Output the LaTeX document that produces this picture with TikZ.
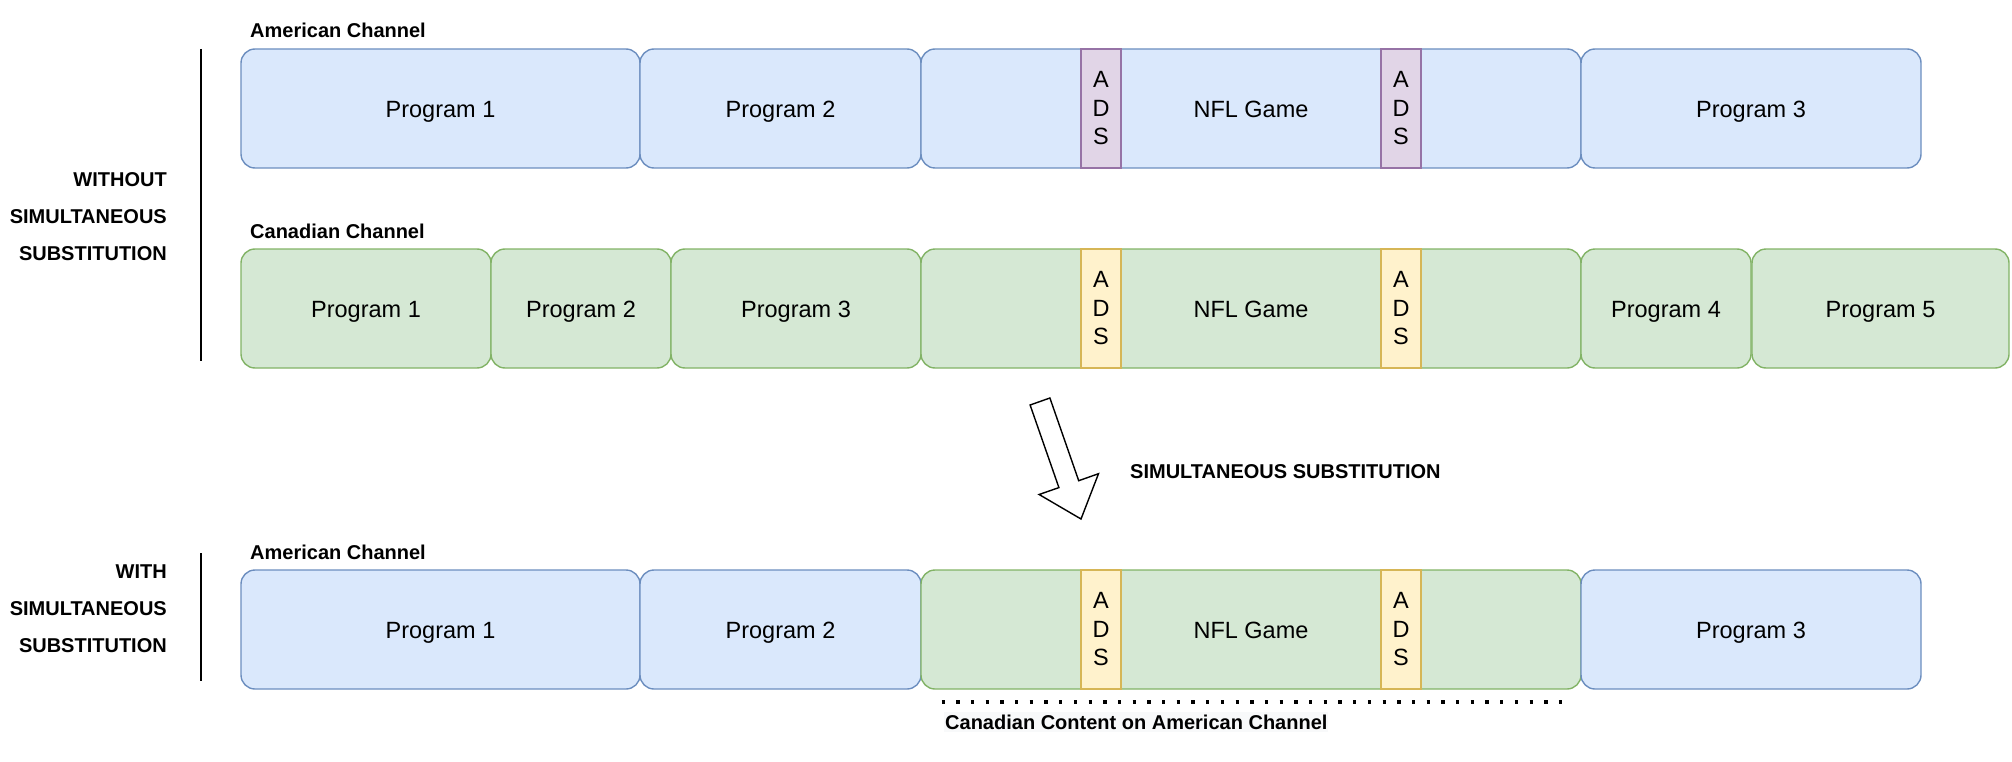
\documentclass[tikz,border=0pt]{standalone}
\usepackage{fontspec}
\setmainfont{Liberation Sans}
\definecolor{bfill}{HTML}{DAE8FC}\definecolor{bline}{HTML}{6C8EBF}
\definecolor{gfill}{HTML}{D5E8D4}\definecolor{gline}{HTML}{82B366}
\definecolor{pfill}{HTML}{E1D5E7}\definecolor{pline}{HTML}{9673A6}
\definecolor{yfill}{HTML}{FFF2CC}\definecolor{yline}{HTML}{D6B656}
\definecolor{lblbg}{HTML}{F8F9FA}
\tikzset{
  boxtext/.style={font=\fontsize{23.5}{28}\selectfont, text height=22pt, text depth=4.5pt},
  box/.style={rectangle, rounded corners=14pt, line width=1.4pt, minimum height=119pt, inner sep=0pt, boxtext},
  bluebox/.style={box, fill=bfill, draw=bline},
  greenbox/.style={box, fill=gfill, draw=gline},
  adsbox/.style={rectangle, line width=1.4pt, minimum height=119pt, minimum width=40pt, inner sep=0pt, align=center, font=\fontsize{23.5}{28.5}\selectfont},
  purpleads/.style={adsbox, fill=pfill, draw=pline},
  yellowads/.style={adsbox, fill=yfill, draw=yline},
  lbl/.style={font=\fontsize{20}{24}\bfseries\selectfont, inner sep=0pt},
  sidebar/.style={line width=2pt, black},
}
\begin{document}
\begin{tikzpicture}[x=1pt, y=-1pt]
\useasboundingbox (0,0) rectangle (2012,762);

% ---------- WITHOUT group ----------
\coordinate (v1a) at (201,49);
\coordinate (v1b) at (201,361);
\draw[sidebar] (v1a) -- (v1b);
\node[lbl, anchor=base east] (w1) at (167,186.5) {WITHOUT};
\node[lbl, anchor=base east] (w2) at (167,223.5) {SIMULTANEOUS};
\node[lbl, anchor=base east] (w3) at (167,260) {SUBSTITUTION};

\node[lbl, anchor=base west] (amlbl1) at (250,38) {American Channel};
% American row
\node[bluebox, minimum width=399pt] (a1) at (440.5,108.5) {Program 1};
\node[bluebox, minimum width=281pt] (a2) at (780.5,108.5) {Program 2};
\node[bluebox, minimum width=660pt] (anfl) at (1251,108.5) {};
\node[purpleads] (aads1) at (1101,108.5) {A\\D\\S};
\node[purpleads] (aads2) at (1401,108.5) {A\\D\\S};
\node[boxtext] (anfltxt) at (1251,108.5) {NFL Game};
\node[bluebox, minimum width=340pt] (a3) at (1751,108.5) {Program 3};

\node[lbl, anchor=base west] (calbl) at (250,238) {Canadian Channel};
% Canadian row
\node[greenbox, minimum width=250pt] (c1) at (366,308.5) {Program 1};
\node[greenbox, minimum width=180pt] (c2) at (581,308.5) {Program 2};
\node[greenbox, minimum width=250pt] (c3) at (796,308.5) {Program 3};
\node[greenbox, minimum width=660pt] (cnfl) at (1251,308.5) {};
\node[yellowads] (cads1) at (1101,308.5) {A\\D\\S};
\node[yellowads] (cads2) at (1401,308.5) {A\\D\\S};
\node[boxtext] (cnfltxt) at (1251,308.5) {NFL Game};
\node[greenbox, minimum width=170pt] (c4) at (1666,308.5) {Program 4};
\node[greenbox, minimum width=257pt] (c5) at (1880.5,308.5) {Program 5};

% ---------- block arrow ----------
\draw[line width=1.4pt, fill=white, line join=miter]
  (1030.1,405.0) -- (1049.9,398.0) -- (1078.7,480.7) -- (1098.5,473.7)
  -- (1081,519) -- (1039.1,494.5) -- (1058.9,487.6) -- cycle;
\node[lbl, anchor=base west] (sslbl) at (1130,478) {SIMULTANEOUS SUBSTITUTION};

% ---------- WITH group ----------
\coordinate (v2a) at (201,553);
\coordinate (v2b) at (201,681);
\draw[sidebar] (v2a) -- (v2b);
\node[lbl, anchor=base east] (x1) at (167,578) {WITH};
\node[lbl, anchor=base east] (x2) at (167,615) {SIMULTANEOUS};
\node[lbl, anchor=base east] (x3) at (167,652) {SUBSTITUTION};

\node[lbl, anchor=base west] (amlbl2) at (250,559) {American Channel};
\node[bluebox, minimum width=399pt] (b1) at (440.5,629.5) {Program 1};
\node[bluebox, minimum width=281pt] (b2) at (780.5,629.5) {Program 2};
\node[greenbox, minimum width=660pt] (bnfl) at (1251,629.5) {};
\node[yellowads] (bads1) at (1101,629.5) {A\\D\\S};
\node[yellowads] (bads2) at (1401,629.5) {A\\D\\S};
\node[boxtext] (bnfltxt) at (1251,629.5) {NFL Game};
\node[bluebox, minimum width=340pt] (b3) at (1751,629.5) {Program 3};

% dotted bracket
\coordinate (d1) at (941.5,702);
\coordinate (d2) at (1572,702);
\draw[line width=3.3pt, dash pattern=on 3.3pt off 11.4pt] (d1) -- (d2);
\node[lbl, anchor=base west, fill=lblbg, inner ysep=3pt, inner xsep=1pt] (cclbl) at (944,729) {Canadian Content on American Channel};
\end{tikzpicture}
\end{document}
